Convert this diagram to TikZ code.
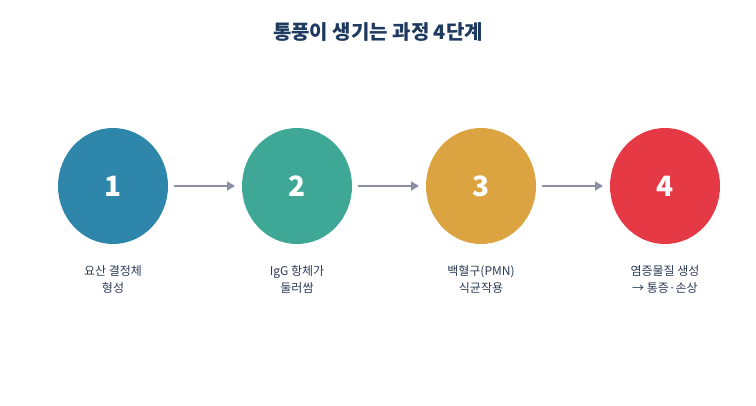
\documentclass[tikz,border=0pt]{standalone}
\usepackage{fontspec}
\setmainfont{Noto Sans CJK KR}
\usetikzlibrary{arrows.meta}
\usetikzlibrary{shapes.geometric}
\definecolor{navy}{HTML}{1F3A5F}
\definecolor{labelc}{HTML}{2B3A55}
\definecolor{arrowc}{HTML}{8A8FA3}
\definecolor{stepa}{HTML}{2E86AB}
\definecolor{stepb}{HTML}{3FA796}
\definecolor{stepc}{HTML}{DBA441}
\definecolor{stepd}{HTML}{E63946}
\begin{document}
\begin{tikzpicture}[%
x=1pt, y=-1pt,
>={Triangle[length=8pt,width=9pt]},
stage/.style={ellipse, minimum width=110pt, minimum height=116pt, inner sep=0pt,
  text=white, font=\fontsize{28}{28}\selectfont\bfseries},
flow/.style={->, line width=2.6pt, draw=arrowc, color=arrowc},
caption/.style={align=center, text=labelc, font=\fontsize{12}{17}\selectfont},
]
\useasboundingbox (0,0) rectangle (756,405);

\node[font=\fontsize{20}{20}\selectfont\bfseries, text=navy] (title) at (378,32) {통풍이 생기는 과정 4단계};

\node[stage, fill=stepa] (s1) at (113,186) {1};
\node[stage, fill=stepb] (s2) at (297,186) {2};
\node[stage, fill=stepc] (s3) at (481,186) {3};
\node[stage, fill=stepd] (s4) at (665,186) {4};

\coordinate (a1) at (174,186); \coordinate (b1) at (235,186);
\coordinate (a2) at (358,186); \coordinate (b2) at (419,186);
\coordinate (a3) at (542,186); \coordinate (b3) at (603,186);
\draw[flow] (a1)--(b1);
\draw[flow] (a2)--(b2);
\draw[flow] (a3)--(b3);

\node[caption] (l1) at (113,279) {요산 결정체\\형성};
\node[caption] (l2) at (297,279) {IgG 항체가\\둘러쌈};
\node[caption] (l3) at (481,279) {백혈구(PMN)\\식균작용};
\node[caption] (l4) at (665,279) {염증물질 생성\\→ 통증·손상};
\end{tikzpicture}
\end{document}
